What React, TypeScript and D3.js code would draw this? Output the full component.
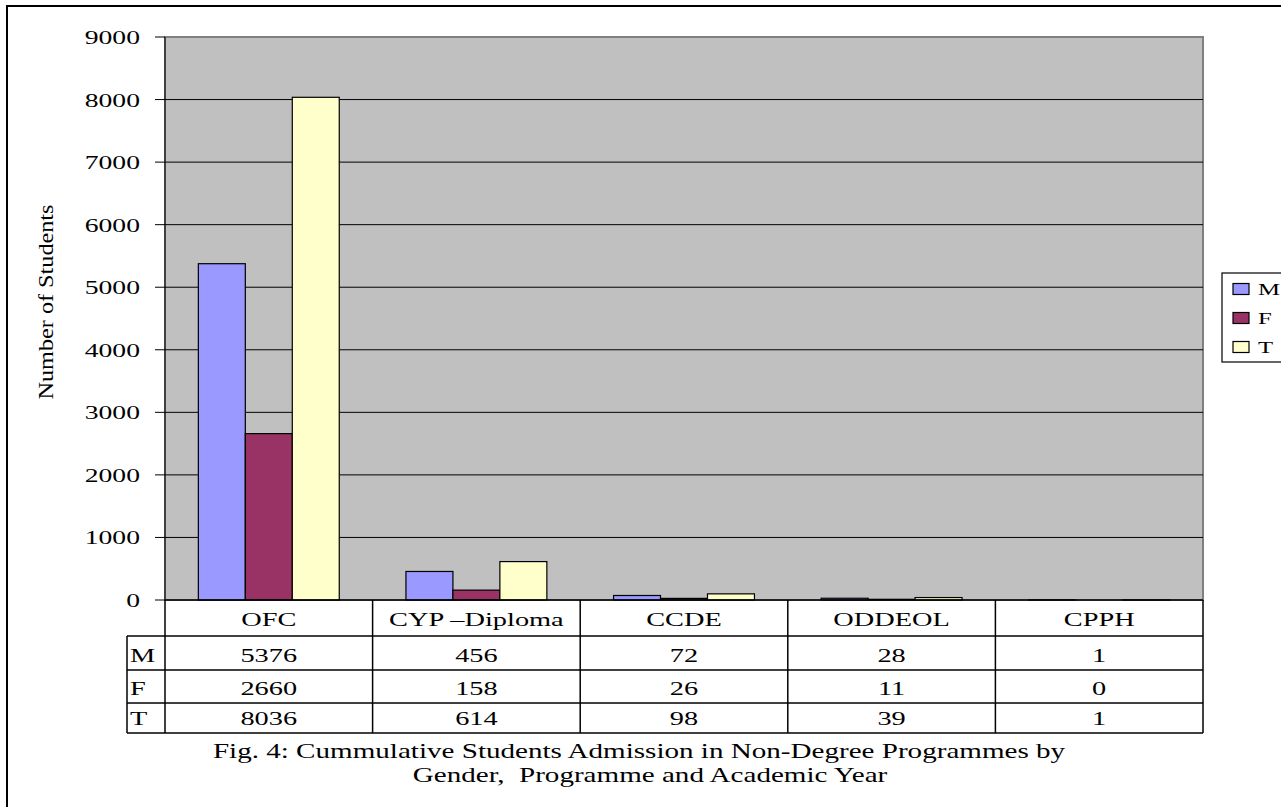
import React from "react";
import * as d3 from "d3";

const categories = ["OFC", "CYP –Diploma", "CCDE", "ODDEOL", "CPPH"];
const seriesNames = ["M", "F", "T"];
const maleValues = [5376, 456, 72, 28, 1];
const femaleValues = [2660, 158, 26, 11, 0];
const totalValues = [8036, 614, 98, 39, 1];
const yTicks = [0, 1000, 2000, 3000, 4000, 5000, 6000, 7000, 8000, 9000];
const seriesColors = ["#9999FF", "#993366", "#FFFFCC"];
const captionLines = [
  "Fig. 4: Cummulative Students Admission in Non-Degree Programmes by",
  "Gender,  Programme and Academic Year",
];

const W = 1281;
const H = 807;
const FONT = "'Liberation Serif', 'Times New Roman', serif";
const SX = 1.455;

function HText({ x, y, children, anchor = "middle", size = 19 }: any) {
  return (
    <text
      transform={`translate(${x},${y}) scale(${SX},1)`}
      textAnchor={anchor}
      fontFamily={FONT}
      fontSize={size}
      fill="#000"
      style={{ whiteSpace: "pre" }}
    >
      {children}
    </text>
  );
}

export default function App() {
  const left = 165;
  const right = 1203;
  const top = 37;
  const bottom = 600;
  const values = [maleValues, femaleValues, totalValues];

  const x = d3.scaleBand<string>().domain(categories).range([left, right]).paddingInner(0).paddingOuter(0);
  const xs = d3.scaleBand<string>().domain(seriesNames).range([0, x.bandwidth()]).paddingInner(0).paddingOuter(0.71);
  const y = d3.scaleLinear().domain([0, 9000]).range([bottom, top]);

  const rowBottoms = [636, 670, 703, 733];
  const tableLeft = 127;
  const colEdges = categories.map((c) => x(c) as number).concat([right]);

  const legendX = 1222;
  const legendTop = 273;
  const legendItemsY = [289, 318, 347];

  return (
    <div style={{ position: "absolute", left: 0, top: 0, width: W, height: H, background: "#fff" }}>
      <svg width={W} height={H} style={{ display: "block" }}>
        <rect x={0} y={0} width={W} height={H} fill="#fff" />
        {/* outer border */}
        <rect x={7} y={6} width={1300} height={830} fill="none" stroke="#000" strokeWidth={2} />

        {/* plot area */}
        <rect x={left} y={top} width={right - left} height={bottom - top} fill="#C0C0C0" stroke="#808080" strokeWidth={2} />

        {/* gridlines */}
        {yTicks.slice(1, -1).map((t) => (
          <line key={"g" + t} x1={left} x2={right} y1={y(t)} y2={y(t)} stroke="#000" strokeWidth={1} />
        ))}

        {/* bars */}
        {categories.map((c, ci) =>
          seriesNames.map((s, si) => {
            const v = values[si][ci];
            const bx = (x(c) as number) + (xs(s) as number);
            const by = y(v);
            return (
              <rect
                key={c + s}
                x={bx}
                y={by}
                width={xs.bandwidth()}
                height={bottom - by}
                fill={seriesColors[si]}
                stroke="#000"
                strokeWidth={1.2}
              />
            );
          })
        )}

        {/* y axis */}
        <line x1={left} x2={left} y1={top} y2={bottom} stroke="#000" strokeWidth={1} />
        {yTicks.map((t) => (
          <g key={"t" + t}>
            <line x1={155} x2={left} y1={y(t)} y2={y(t)} stroke="#000" strokeWidth={1} />
            <HText x={140} y={y(t) + 7} anchor="end" size={19}>
              {String(t)}
            </HText>
          </g>
        ))}

        {/* y axis title */}
        <text
          transform={`translate(53,302) rotate(-90)`}
          textAnchor="middle"
          fontFamily={FONT}
          fontSize={21}
          textLength={195}
          lengthAdjust="spacingAndGlyphs"
          fill="#000"
        >
          Number of Students
        </text>

        {/* data table */}
        <line x1={left} x2={right} y1={bottom} y2={bottom} stroke="#000" strokeWidth={1.5} />
        {rowBottoms.map((rb, i) => (
          <line key={"rb" + i} x1={tableLeft} x2={right} y1={rb} y2={rb} stroke="#000" strokeWidth={1.5} />
        ))}
        <line x1={tableLeft} x2={tableLeft} y1={rowBottoms[0]} y2={rowBottoms[3]} stroke="#000" strokeWidth={1.5} />
        {colEdges.map((cx, i) => (
          <line key={"ce" + i} x1={cx} x2={cx} y1={bottom} y2={rowBottoms[3]} stroke="#000" strokeWidth={1.5} />
        ))}
        {categories.map((c) => (
          <HText key={"h" + c} x={(x(c) as number) + x.bandwidth() / 2} y={626} size={19.5}>
            {c}
          </HText>
        ))}
        {seriesNames.map((s, si) => (
          <g key={"row" + s}>
            <HText x={130} y={rowBottoms[si + 1] - 8} anchor="start" size={19.5}>
              {s}
            </HText>
            {categories.map((c, ci) => (
              <HText key={s + c} x={(x(c) as number) + x.bandwidth() / 2} y={rowBottoms[si + 1] - 8} size={19.5}>
                {String(values[si][ci])}
              </HText>
            ))}
          </g>
        ))}

        {/* caption */}
        <HText x={639} y={758} size={20}>
          {captionLines[0]}
        </HText>
        <HText x={650} y={782} size={20}>
          {captionLines[1]}
        </HText>

        {/* legend */}
        <rect x={legendX} y={legendTop} width={100} height={89} fill="#fff" stroke="#000" strokeWidth={1.2} />
        {seriesNames.map((s, si) => (
          <g key={"lg" + s}>
            <rect x={1233} y={legendItemsY[si] - 5.5} width={16} height={11} fill={seriesColors[si]} stroke="#000" strokeWidth={1.2} />
            <HText x={1258} y={legendItemsY[si] + 6} anchor="start" size={17}>
              {s}
            </HText>
          </g>
        ))}
      </svg>
    </div>
  );
}
